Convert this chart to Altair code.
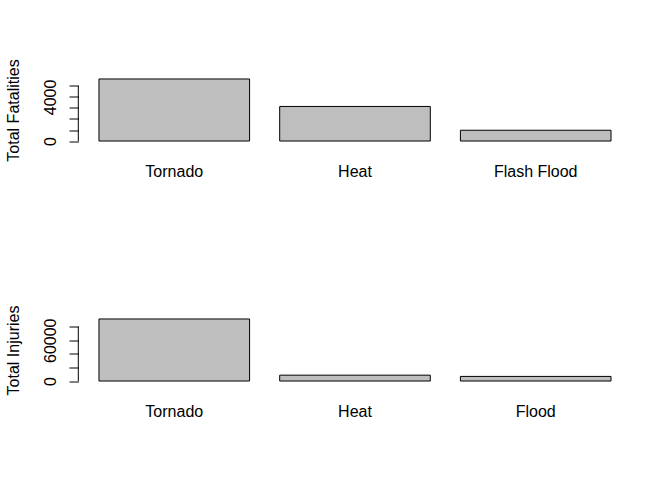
import altair as alt
import pandas as pd

fat_cats = ["Tornado", "Heat", "Flash Flood"]
fat_vals = [5633, 3138, 978]
fat_ticks = [0, 1000, 2000, 3000, 4000, 5000]
fat_shown = [0, 4000]

inj_cats = ["Tornado", "Heat", "Flood"]
inj_vals = [91346, 8625, 6789]
inj_ticks = [0, 20000, 40000, 60000, 80000]
inj_shown = [0, 60000]

W, H = 553, 67
FONT = "Liberation Sans"


def panel(cats, vals, ticks, shown, title):
    df = pd.DataFrame({"cat": cats, "val": vals})
    vmax = max(vals)
    yscale = alt.Scale(domain=[-0.04 * vmax, 1.04 * vmax], nice=False, zero=False)
    shown_expr = "indexof([" + ",".join(str(s) for s in shown) + "], datum.value) >= 0 ? datum.label : ''"
    yaxis = alt.Axis(title=title, values=ticks, format="d", labelExpr=shown_expr,
                     labelOverlap=False,
                     domain=False, grid=False, tickSize=9.5, tickColor="black",
                     labelAngle=270, labelAlign="center", labelBaseline="alphabetic",
                     labelPadding=13.3, labelFontSize=16, labelColor="black",
                     labelFont=FONT,
                     titleAngle=270, titleAlign="center", titleBaseline="alphabetic",
                     titleX=-60.2, titleY=H / 2, titleFontSize=16,
                     titleFontWeight="normal", titleColor="black", titleFont=FONT)
    bars = alt.Chart(df).mark_bar(fill="#BEBEBE", stroke="black", strokeWidth=1).encode(
        x=alt.X("cat:N", sort=cats, title=None,
                scale=alt.Scale(paddingInner=0.2 / 1.2, paddingOuter=0.136 / 1.2),
                axis=alt.Axis(ticks=False, domain=False, labelAngle=0, labelPadding=20,
                              labelFontSize=16, labelColor="black", labelFont=FONT)),
        y=alt.Y("val:Q", scale=yscale, axis=yaxis),
        y2=alt.datum(0),
    )
    axis_line = alt.Chart(pd.DataFrame({"lo": [ticks[0]], "hi": [ticks[-1]]})).mark_rule(
        color="black", strokeWidth=1
    ).encode(x=alt.value(-0.2), y=alt.Y("lo:Q", scale=yscale, axis=yaxis), y2="hi:Q")
    return alt.layer(bars, axis_line).properties(width=W, height=H)


top = panel(fat_cats, fat_vals, fat_ticks, fat_shown, "Total Fatalities")
bottom = panel(inj_cats, inj_vals, inj_ticks, inj_shown, "Total Injuries")

chart = alt.vconcat(top, bottom, spacing=173, bounds="flush").properties(
    padding={"left": 4.5, "top": 58.5, "right": 0, "bottom": 0},
).configure(font=FONT, background="white").configure_view(strokeWidth=0)

chart.save("out.html", embed_options={"renderer": "svg", "actions": False})
